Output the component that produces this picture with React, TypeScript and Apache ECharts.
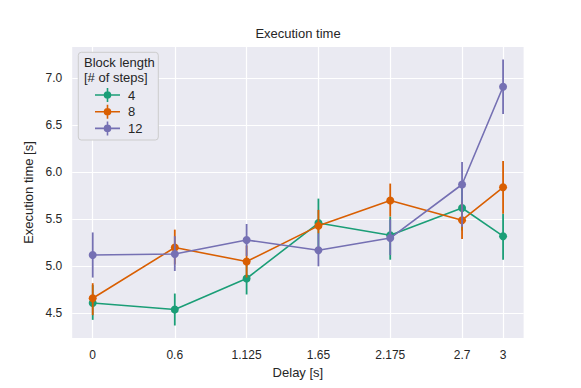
import React, { useEffect, useRef } from "react";
import * as echarts from "echarts";

const delays = [0, 0.6, 1.125, 1.65, 2.175, 2.7, 3];
const yTicks = [4.5, 5.0, 5.5, 6.0, 6.5, 7.0];
const seriesNames = ["4", "8", "12"];
const colors = ["#1b9e77", "#d95f02", "#7570b3"];

const mean4 = [4.61, 4.54, 4.87, 5.46, 5.33, 5.62, 5.32];
const lo4 = [4.43, 4.37, 4.70, 5.19, 5.07, 5.38, 5.07];
const hi4 = [4.80, 4.71, 5.03, 5.72, 5.53, 5.86, 5.56];

const mean8 = [4.66, 5.20, 5.05, 5.43, 5.70, 5.49, 5.84];
const lo8 = [4.48, 5.02, 4.88, 5.35, 5.53, 5.29, 5.56];
const hi8 = [4.82, 5.39, 5.22, 5.60, 5.88, 5.68, 6.12];

const mean12 = [5.12, 5.13, 5.28, 5.17, 5.30, 5.87, 6.91];
const lo12 = [4.88, 4.95, 5.11, 5.00, 5.12, 5.42, 6.62];
const hi12 = [5.36, 5.32, 5.45, 5.35, 5.50, 6.11, 7.20];

const means = [mean4, mean8, mean12];
const lows = [lo4, lo8, lo12];
const highs = [hi4, hi8, hi12];

const FONT = "Liberation Sans, Arial, sans-serif";
const TXT = "#262626";

const legendIcon =
  "path://M0,6.2 L25,6.2 L25,7.8 L0,7.8 Z M11.7,0 L13.3,0 L13.3,14 L11.7,14 Z M16.3,7 A3.8,3.8 0 1,1 8.7,7 A3.8,3.8 0 1,1 16.3,7 Z";

export default function App() {
  const ref = useRef<HTMLDivElement>(null);
  useEffect(() => {
    document.body.style.margin = "0";
    if (!ref.current) return;
    const chart = echarts.init(ref.current, undefined, { renderer: "svg" });
    const series: any[] = [];
    seriesNames.forEach((name, i) => {
      series.push({
        name: name + " ci",
        type: "custom",
        z: 3 + i * 2,
        data: delays.map((d, j) => [d, lows[i][j], highs[i][j]]),
        encode: { x: 0, y: [1, 2] },
        renderItem: (params: any, api: any) => {
          const x = api.value(0);
          const p1 = api.coord([x, api.value(1)]);
          const p2 = api.coord([x, api.value(2)]);
          return {
            type: "line",
            shape: { x1: p1[0], y1: p1[1], x2: p2[0], y2: p2[1] },
            style: { stroke: colors[i], lineWidth: 1.8 },
          };
        },
        silent: true,
      });
      series.push({
        name,
        type: "line",
        z: 4 + i * 2,
        data: delays.map((d, j) => [d, means[i][j]]),
        symbol: "circle",
        symbolSize: 8,
        showSymbol: true,
        lineStyle: { color: colors[i], width: 1.6 },
        itemStyle: { color: colors[i] },
        silent: true,
      });
    });
    chart.setOption({
      animation: false,
      title: {
        text: "Execution time",
        left: 298,
        top: 27,
        padding: 0,
        textAlign: "center",
        textStyle: { fontFamily: FONT, fontSize: 13, fontWeight: "normal", color: TXT },
      },
      grid: {
        left: 72.2,
        right: 57.4,
        top: 47,
        bottom: 50,
        show: true,
        backgroundColor: "#EAEAF2",
        borderWidth: 0,
      },
      xAxis: {
        type: "value",
        min: -0.15,
        max: 3.15,
        name: "Delay [s]",
        nameLocation: "middle",
        nameGap: 26,
        nameTextStyle: { fontFamily: FONT, fontSize: 13, color: TXT },
        axisLine: { show: false },
        axisTick: { show: false, customValues: delays },
        axisLabel: {
          customValues: delays,
          formatter: (v: number) => String(v),
          fontFamily: FONT,
          fontSize: 12,
          color: TXT,
          margin: 11,
        },
        splitLine: { show: true, lineStyle: { color: "#ffffff", width: 1.2 } },
      },
      yAxis: {
        type: "value",
        min: 4.237,
        max: 7.333,
        name: "Execution time [s]",
        nameLocation: "middle",
        nameGap: 30,
        nameTextStyle: { fontFamily: FONT, fontSize: 13, color: TXT },
        axisLine: { show: false },
        axisTick: { show: false, customValues: yTicks },
        axisLabel: {
          customValues: yTicks,
          formatter: (v: number) => v.toFixed(1),
          fontFamily: FONT,
          fontSize: 12,
          color: TXT,
          margin: 10,
        },
        splitLine: { show: true, lineStyle: { color: "#ffffff", width: 1.2 } },
      },
      legend: {
        data: seriesNames,
        orient: "vertical",
        left: 95,
        top: 88,
        padding: 0,
        itemWidth: 25,
        itemHeight: 14,
        itemGap: 2.7,
        icon: legendIcon,
        selectedMode: false,
        z: 12,
        textStyle: { fontFamily: FONT, fontSize: 13, color: TXT, lineHeight: 14, padding: [0, 0, 0, 3] },
      },
      graphic: [
        {
          type: "rect",
          z: 10,
          shape: { x: 78.3, y: 52.3, width: 80, height: 87.7, r: 3 },
          style: { fill: "#EAEAF2", stroke: "#CCCCCC", lineWidth: 1 },
        },
        {
          type: "text",
          z: 11,
          x: 84,
          y: 62.3,
          style: {
            text: "Block length",
            fontFamily: FONT,
            fontSize: 13,
            fill: TXT,
            verticalAlign: "middle",
          },
        },
        {
          type: "text",
          z: 11,
          x: 84,
          y: 77.3,
          style: {
            text: "[# of steps]",
            fontFamily: FONT,
            fontSize: 13,
            fill: TXT,
            verticalAlign: "middle",
          },
        },
      ],
      series,
    });
    return () => chart.dispose();
  }, []);
  return <div ref={ref} style={{ width: 581, height: 388 }} />;
}
